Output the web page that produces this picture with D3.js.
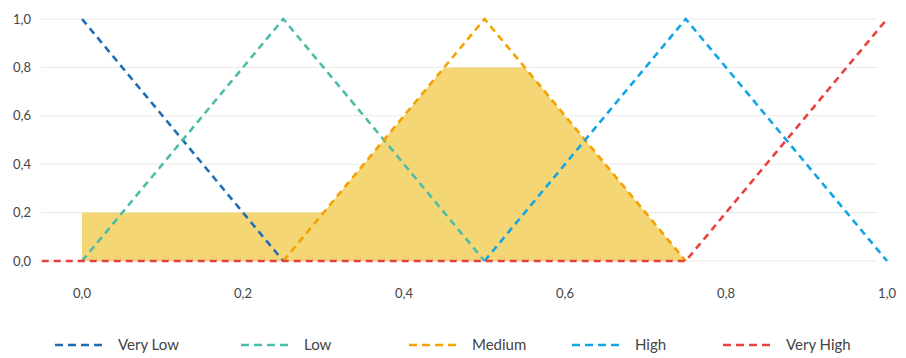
<!DOCTYPE html>
<html>
<head>
<meta charset="utf-8">
<script src="https://cdn.jsdelivr.net/npm/d3@7"></script>
<style>
  html, body { margin: 0; padding: 0; background: #fff; }
  svg { display: block; font-family: Lato, "Noto Sans", sans-serif; }
</style>
</head>
<body>
<svg id="chart" width="906" height="358"></svg>
<script>
// ---- data ----
const seriesNames = ["Very Low", "Low", "Medium", "High", "Very High"];
const seriesColors = ["#1f6db5", "#4dbdaa", "#f5a100", "#12a5e3", "#e8413f"];
const veryLowX = [0, 0.25];          const veryLowY = [1, 0];
const lowX = [0, 0.25, 0.5];         const lowY = [0, 1, 0];
const mediumX = [0.25, 0.5, 0.75];   const mediumY = [0, 1, 0];
const highX = [0.5, 0.75, 1.0];      const highY = [0, 1, 0];
const veryHighX = [-0.05, 0.75, 1.0]; const veryHighY = [0, 0, 1];
const outputX = [0, 0.3, 0.45, 0.55, 0.75];
const outputY = [0.2, 0.2, 0.8, 0.8, 0];
const xTicks = [0, 0.2, 0.4, 0.6, 0.8, 1.0];
const yTicks = [0, 0.2, 0.4, 0.6, 0.8, 1.0];

// ---- layout ----
const svg = d3.select("#chart");
const x = d3.scaleLinear().domain([0, 1]).range([82, 887]);
const y = d3.scaleLinear().domain([0, 1]).range([261, 19]);
const gridX1 = 41, gridX2 = 877;
const fmt = v => d3.format(".1f")(v).replace(".", ",");

// gridlines
svg.append("g").selectAll("line").data(yTicks).join("line")
  .attr("x1", gridX1).attr("x2", gridX2)
  .attr("y1", d => y(d)).attr("y2", d => y(d))
  .attr("stroke", "#e9e9e9").attr("stroke-width", 1);

// y labels
svg.append("g").selectAll("text").data(yTicks).join("text")
  .attr("x", 31).attr("y", d => y(d)).attr("dy", "0.35em")
  .attr("text-anchor", "end").attr("font-size", 13).attr("fill", "#444")
  .text(fmt);

// x labels
svg.append("g").selectAll("text").data(xTicks).join("text")
  .attr("x", d => x(d)).attr("y", 298)
  .attr("text-anchor", "middle").attr("font-size", 13).attr("fill", "#444")
  .text(fmt);

// fill area
const areaData = outputX.map((v, i) => [v, outputY[i]]);
svg.append("path").datum(areaData)
  .attr("fill", "#f4d675")
  .attr("d", d3.area().x(d => x(d[0])).y0(y(0)).y1(d => y(d[1])));

// lines
const allX = [veryLowX, lowX, mediumX, highX, veryHighX];
const allY = [veryLowY, lowY, mediumY, highY, veryHighY];
const line = d3.line().x(d => x(d[0])).y(d => y(d[1]));
seriesNames.forEach((name, s) => {
  const pts = allX[s].map((v, i) => [v, allY[s][i]]);
  svg.append("path").datum(pts)
    .attr("fill", "none")
    .attr("stroke", seriesColors[s])
    .attr("stroke-width", 2.6)
    .attr("stroke-dasharray", "7,5")
    .attr("d", line);
});

// legend
const legendSwatchX = [55, 241, 409, 572, 723];
const lg = svg.append("g");
seriesNames.forEach((name, s) => {
  lg.append("line")
    .attr("x1", legendSwatchX[s]).attr("x2", legendSwatchX[s] + 48)
    .attr("y1", 345).attr("y2", 345)
    .attr("stroke", seriesColors[s]).attr("stroke-width", 2.6)
    .attr("stroke-dasharray", "8,5");
  lg.append("text")
    .attr("x", legendSwatchX[s] + 63).attr("y", 345).attr("dy", "0.35em")
    .attr("font-size", 15).attr("fill", "#444")
    .text(name);
});
</script>
</body>
</html>
